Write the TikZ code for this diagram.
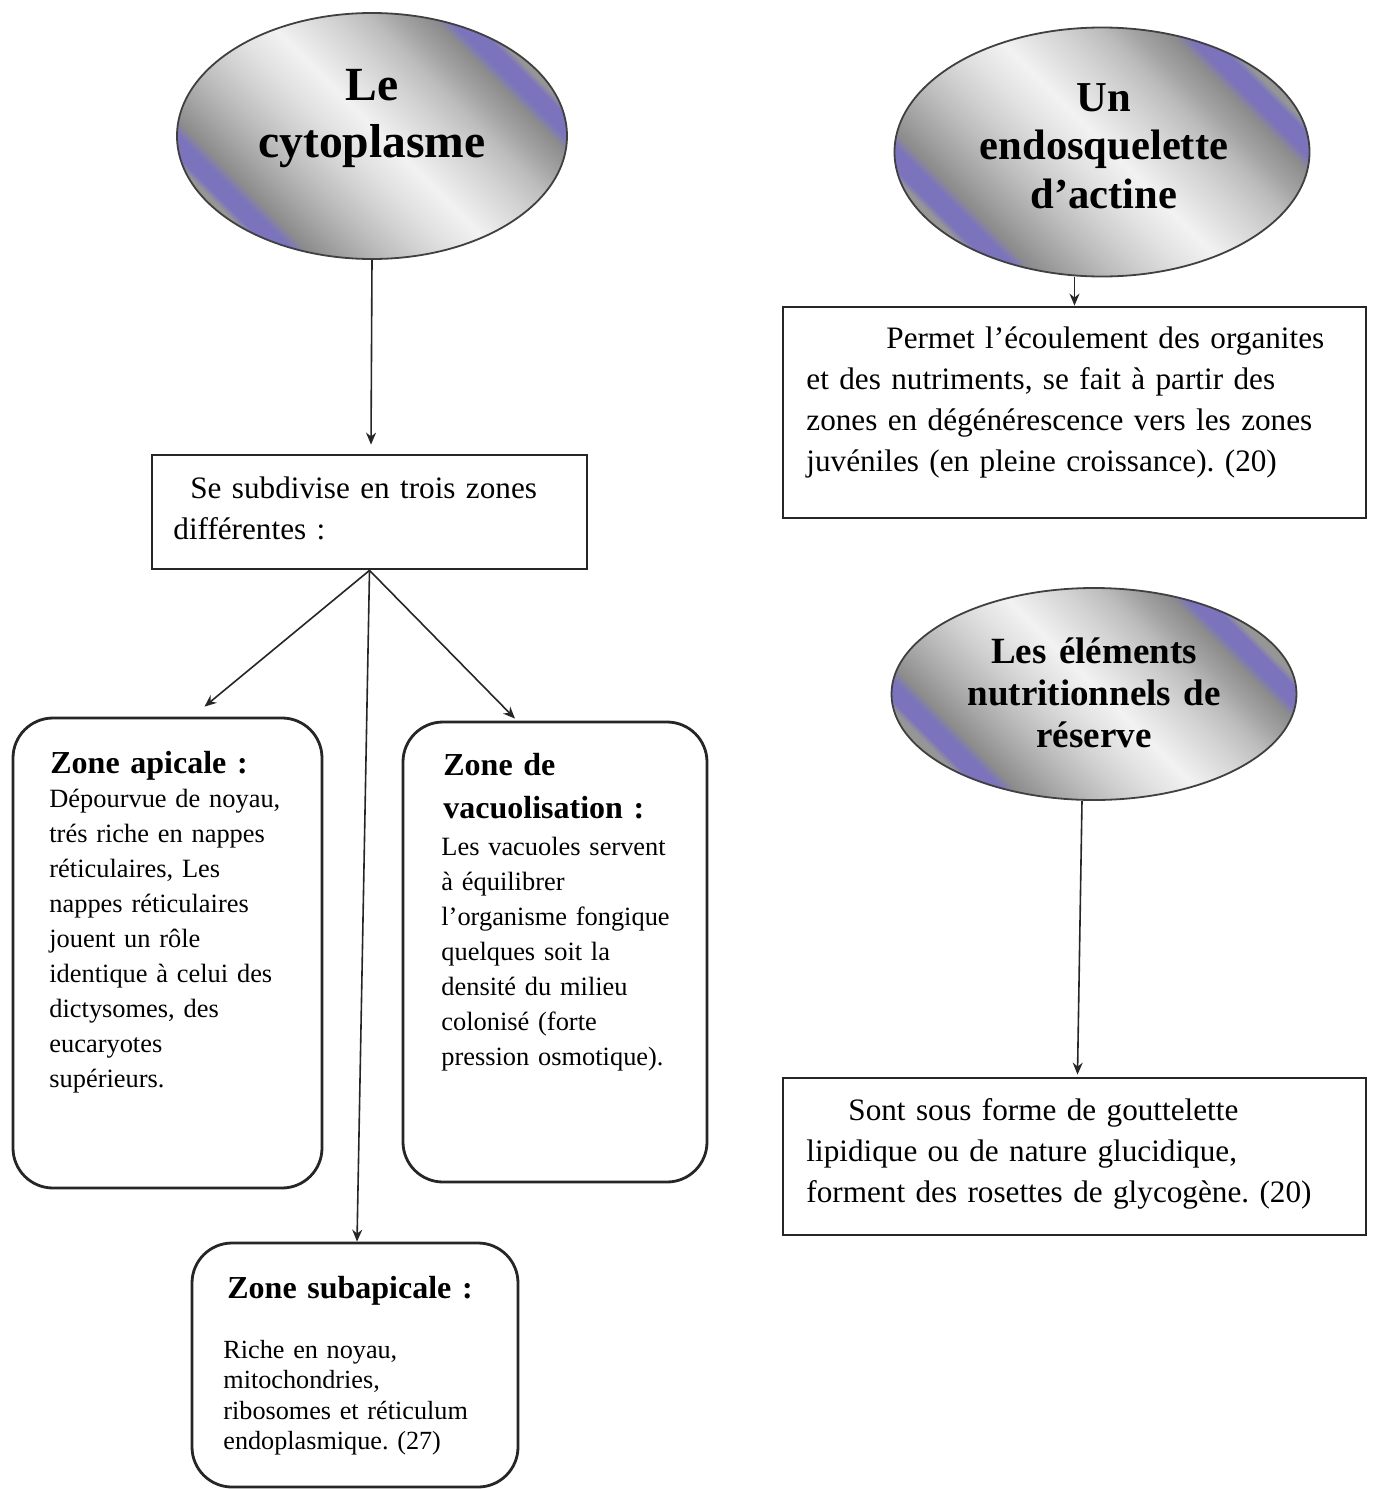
\documentclass[tikz,border=0pt]{standalone}
\usepackage{fontspec}
\setmainfont{Liberation Serif}
\usetikzlibrary{shapes.geometric,arrows.meta,calc}
\definecolor{shpurple}{RGB}{123,116,189}
\definecolor{shgO}{RGB}{150,150,150}
\definecolor{shgA}{RGB}{140,140,140}
\definecolor{shgB}{RGB}{165,165,165}
\definecolor{shgC}{RGB}{188,188,188}
\definecolor{shgD}{RGB}{208,208,208}
\definecolor{shgE}{RGB}{225,225,225}
\definecolor{shgF}{RGB}{242,242,242}
\pgfdeclarehorizontalshading{ovalshade}{100bp}{color(0bp)=(shgO); color(25bp)=(shgO); color(26bp)=(shpurple); color(28.5bp)=(shpurple); color(30bp)=(shgA); color(34bp)=(shgB); color(38bp)=(shgC); color(42bp)=(shgD); color(46bp)=(shgE); color(51bp)=(shgF); color(55bp)=(shgE); color(59bp)=(shgD); color(63bp)=(shgC); color(66bp)=(shgB); color(70bp)=(shgA); color(71.5bp)=(shpurple); color(74bp)=(shpurple); color(75bp)=(shgO); color(100bp)=(shgO)}
\frenchspacing
\begin{document}
\begin{tikzpicture}[x=0.5pt,y=-0.5pt,
  oval/.style={ellipse, draw=black!75, line width=0.9pt, shading=ovalshade, shading angle=45, inner sep=0pt},
  ovtxt/.style={inner sep=0pt, anchor=base, align=center, text width=200pt},
  sbox/.style={draw=black!85, line width=1.4pt, inner sep=0pt},
  rbox/.style={draw=black!85, line width=1.4pt, rounded corners=20pt, inner sep=0pt},
  txt/.style={inner sep=0pt, anchor=base west, align=left, text width=#1},
  arr/.style={-{Stealth[length=6pt,width=5pt]}, line width=0.8pt, draw=black!85},
  boxfont/.style={font=\fontsize{15.6}{20.5}\selectfont},
  titfont/.style={font=\fontsize{16}{21.5}\selectfont\bfseries},
  zonefont/.style={font=\fontsize{13.2}{17.5}\selectfont},
  subfont/.style={font=\fontsize{13.1}{15.3}\selectfont}]
\useasboundingbox (0,0) rectangle (1373,1489);
\fill[white] (0,0) rectangle (1373,1489);

% ellipses
\node[oval, minimum width=195pt, minimum height=123pt] (cyto) at (372,136) {};
\node[ovtxt, font=\fontsize{23.8}{28.5}\selectfont\bfseries] (cytoT) at (372,100) {Le\\cytoplasme};

\node[oval, minimum width=207.5pt, minimum height=124.5pt] (endo) at (1102,152) {};
\node[ovtxt, font=\fontsize{21.3}{24.3}\selectfont\bfseries] (endoT) at (1104,111) {Un\\endosquelette\\d’actine};

\node[oval, minimum width=202.5pt, minimum height=106pt] (nutri) at (1094,694) {};
\node[ovtxt, font=\fontsize{18.5}{21}\selectfont\bfseries] (nutriT) at (1094,663) {Les éléments\\nutritionnels de\\réserve};

% rectangles
\node[sbox, minimum width=217.5pt, minimum height=57pt] (subdiv) at (369.5,512) {};
\node[txt=210pt, boxfont] (subdivT) at (173,498) {\hspace*{8.5pt}Se subdivise en trois zones\\différentes :};

\node[sbox, minimum width=291.5pt, minimum height=105.5pt] (perm) at (1074.5,412.5) {};
\node[txt=285pt, boxfont] (permT) at (806,348) {\hspace*{40pt}Permet l’écoulement des organites\\et des nutriments, se fait à partir des\\zones en dégénérescence vers les zones\\juvéniles (en pleine croissance). (20)};

\node[sbox, minimum width=291.5pt, minimum height=78.5pt] (sont) at (1074.5,1156.5) {};
\node[txt=285pt, boxfont] (sontT) at (806,1120) {\hspace*{21pt}Sont sous forme de gouttelette\\lipidique ou de nature glucidique,\\forment des rosettes de glycogène. (20)};

% rounded zone boxes
\node[rbox, minimum width=154.5pt, minimum height=235pt] (apical) at (167.5,953) {};
\node[txt=150pt, titfont] (apicalH) at (50,773) {Zone apicale :};
\node[txt=150pt, zonefont] (apicalT) at (49,807) {Dépourvue de noyau,\\trés riche en nappes\\réticulaires, Les\\nappes réticulaires\\jouent un rôle\\identique à celui des\\dictysomes, des\\eucaryotes\\supérieurs.};

\node[rbox, minimum width=152pt, minimum height=230pt] (vacuol) at (555,952) {};
\node[txt=150pt, titfont] (vacuolH) at (443,775) {Zone de\\vacuolisation :};
\node[txt=150pt, zonefont] (vacuolT) at (441,855) {Les vacuoles servent\\à équilibrer\\l’organisme fongique\\quelques soit la\\densité du milieu\\colonisé (forte\\pression osmotique).};

\node[rbox, minimum width=163pt, minimum height=122pt] (subap) at (355,1365) {};
\node[txt=150pt, titfont] (subapH) at (227,1298) {Zone subapicale :};
\node[txt=150pt, subfont] (subapT) at (223,1358) {Riche en noyau,\\mitochondries,\\ribosomes et réticulum\\endoplasmique. (27)};

% connectors
\draw[arr] (cyto.south) -- ($(cyto.south |- subdiv.north)+(-1,-9)$);
\draw[arr] (subdiv.south) -- ($(apical.north)+(37,-10)$);
\draw[arr] (subdiv.south) -- ($(vacuol.north)+(-40,-2)$);
\draw[arr] (subdiv.south) -- ($(subap.north)+(2,0)$);
\draw[arr] (endo.south -| perm.north) -- (perm.north);
\draw[arr] ($(nutri.south)+(-12,0)$) -- ($(sont.north)+(3,-2)$);
\end{tikzpicture}
\end{document}
